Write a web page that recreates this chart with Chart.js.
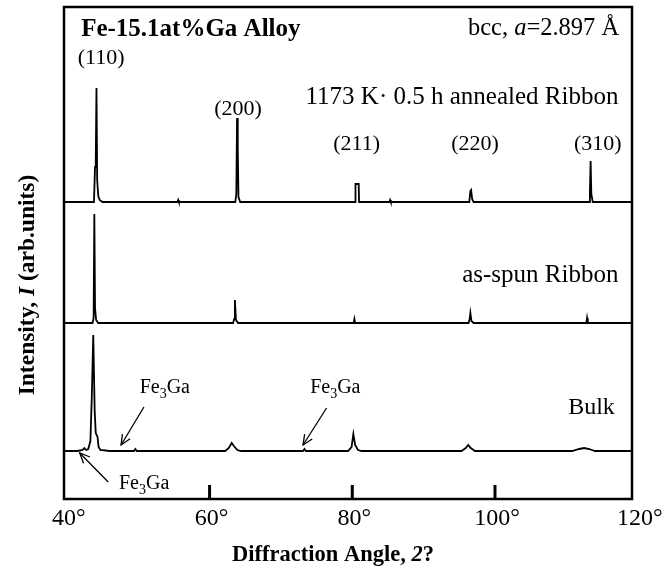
<!DOCTYPE html>
<html>
<head>
<meta charset="utf-8">
<script src="https://cdn.jsdelivr.net/npm/chart.js@4.4.1/dist/chart.umd.min.js"></script>
<style>
  body { margin: 0; background: #fff; }
  #wrap { width: 664px; height: 571px; }
</style>
</head>
<body>
<div id="wrap"><canvas id="xrd" width="664" height="571"></canvas></div>
<script>
// 2θ (deg) and intensity above each pattern's own baseline (arb. units)
const annealedAngle = [39.6, 42.0, 43.8, 43.95, 44.05, 44.15, 44.25, 44.4, 44.6, 45.0, 52.0, 55.5, 55.6, 55.7, 60.0, 63.6, 63.75, 63.85, 63.95, 64.05, 64.3, 70.0, 80.4, 80.45, 80.9, 80.95, 83.0, 85.2, 85.3, 85.4, 90.0, 96.4, 96.55, 96.65, 96.8, 97.0, 105.0, 113.2, 113.3, 113.4, 113.5, 113.7, 119.2];
const annealedCounts = [0, 0, 0, 35, 40, 114, 22, 6, 2, 0, 0, 0, 2, 0, 0, 0, 8, 84, 55, 5, 0, 0, 0, 18, 18, 0, 0, 0, 2, 0, 0, 0, 11, 12, 3, 0, 0, 0, 10, 41, 8, 0, 0];

const asSpunAngle = [39.6, 43.6, 43.75, 43.85, 43.95, 44.1, 44.4, 50.0, 63.3, 63.45, 63.55, 63.7, 64.0, 70.0, 80.2, 80.3, 80.4, 85.0, 96.3, 96.45, 96.55, 96.7, 97.0, 105.0, 112.8, 112.9, 113.0, 119.2];
const asSpunCounts = [0, 0, 5, 109, 15, 3, 0, 0, 0, 4, 23, 3, 0, 0, 0, 4, 0, 0, 0, 4, 10, 2, 0, 0, 0, 5, 0, 0];

const bulkAngle = [39.6, 41.5, 42.2, 42.45, 42.7, 43.0, 43.3, 43.5, 43.7, 43.9, 44.05, 44.3, 44.45, 44.7, 46.0, 49.4, 49.6, 49.8, 55.0, 62.2, 62.7, 63.1, 63.4, 63.9, 64.4, 70.0, 73.1, 73.3, 73.5, 79.4, 79.9, 80.15, 80.4, 80.8, 81.3, 88.0, 95.3, 95.9, 96.25, 96.6, 97.2, 105.0, 110.8, 111.8, 112.5, 113.2, 114.0, 119.2];
const bulkCounts = [0, 0, 1, 3, 1, 2, 10, 55, 116, 40, 18, 14, 4, 1, 0, 0, 2, 0, 0, 0, 3, 8, 5, 1, 0, 0, 0, 2, 0, 0, 4, 17, 6, 1, 0, 0, 0, 3, 6, 3, 0, 0, 0, 2, 3, 2, 0, 0];

// vertical shift of each pattern so they stack
const annealedOffset = 297;
const asSpunOffset = 176;
const bulkOffset = 48;

const xTicks = [40, 60, 80, 100, 120];
const innerTicks = [60, 80, 100];

const peakLabels = ['(110)', '(200)', '(211)', '(220)', '(310)'];
const peakLabelAngle = [44.8, 64.0, 80.6, 97.2, 114.4];
const peakLabelLevel = [435, 384, 349, 349, 349];

const SERIF = '"Liberation Serif", "Times New Roman", serif';

function toPoints(angles, counts, offset) {
  return angles.map((a, i) => ({ x: a, y: counts[i] + offset }));
}

function drawRuns(ctx, runs, x, y, align) {
  let total = 0;
  runs.forEach(r => { ctx.font = r.font; total += ctx.measureText(r.t).width; });
  let cx = align === 'right' ? x - total : align === 'center' ? x - total / 2 : x;
  ctx.textAlign = 'left';
  runs.forEach(r => {
    ctx.font = r.font;
    ctx.fillText(r.t, cx, y + (r.dy || 0));
    cx += ctx.measureText(r.t).width;
  });
}

function fe3ga(size) {
  return [
    { t: 'Fe', font: size + 'px ' + SERIF },
    { t: '3', font: Math.round(size * 0.68) + 'px ' + SERIF, dy: 5 },
    { t: 'Ga', font: size + 'px ' + SERIF }
  ];
}

function arrow(ctx, x1, y1, x2, y2) {
  ctx.beginPath();
  ctx.moveTo(x1, y1);
  ctx.lineTo(x2, y2);
  ctx.stroke();
  const ang = Math.atan2(y2 - y1, x2 - x1);
  const len = 11, spread = 0.42;
  ctx.beginPath();
  ctx.moveTo(x2 - len * Math.cos(ang - spread), y2 - len * Math.sin(ang - spread));
  ctx.lineTo(x2, y2);
  ctx.lineTo(x2 - len * Math.cos(ang + spread), y2 - len * Math.sin(ang + spread));
  ctx.stroke();
}

const overlay = {
  id: 'overlay',
  afterDatasetsDraw(chart) {
    const { ctx, chartArea: a, scales: { x, y } } = chart;
    const X = v => x.getPixelForValue(v);
    const Y = v => y.getPixelForValue(v);
    ctx.save();
    ctx.fillStyle = '#000';
    ctx.strokeStyle = '#000';

    // frame
    ctx.lineWidth = 2.5;
    ctx.strokeRect(a.left, a.top, a.right - a.left, a.bottom - a.top);

    // inner tick marks
    ctx.lineWidth = 3;
    innerTicks.forEach(v => {
      ctx.beginPath();
      ctx.moveTo(X(v), a.bottom);
      ctx.lineTo(X(v), a.bottom - 14);
      ctx.stroke();
    });

    // tick labels
    ctx.font = '24px ' + SERIF;
    ctx.textAlign = 'center';
    ctx.textBaseline = 'alphabetic';
    xTicks.forEach(v => ctx.fillText(v + '°', X(v) + 2, a.bottom + 26));

    // axis titles
    drawRuns(ctx, [
      { t: 'Diffraction Angle, ', font: 'bold 22.5px ' + SERIF },
      { t: '2', font: 'italic bold 22.5px ' + SERIF },
      { t: '?', font: 'bold 22.5px ' + SERIF }
    ], 333, a.bottom + 62, 'center');

    ctx.save();
    ctx.translate(34, 285);
    ctx.rotate(-Math.PI / 2);
    drawRuns(ctx, [
      { t: 'Intensity, ', font: 'bold 23.5px ' + SERIF },
      { t: 'I', font: 'italic bold 23.5px ' + SERIF },
      { t: ' (arb.units)', font: 'bold 23.5px ' + SERIF }
    ], 0, 0, 'center');
    ctx.restore();

    // header texts
    drawRuns(ctx, [{ t: 'Fe-15.1at%Ga Alloy', font: 'bold 25px ' + SERIF }], X(42.0), Y(463), 'left');
    drawRuns(ctx, [
      { t: 'bcc, ', font: '24.5px ' + SERIF },
      { t: 'a', font: 'italic 24.5px ' + SERIF },
      { t: '=2.897 Å', font: '24.5px ' + SERIF }
    ], X(117.4), Y(464), 'right');

    // peak indices
    ctx.font = '22px ' + SERIF;
    ctx.textAlign = 'center';
    peakLabels.forEach((t, i) => ctx.fillText(t, X(peakLabelAngle[i]), Y(peakLabelLevel[i])));

    // sample names
    drawRuns(ctx, [{ t: '1173 K· 0.5 h annealed Ribbon', font: '25px ' + SERIF }], X(117.3), Y(395), 'right');
    drawRuns(ctx, [{ t: 'as-spun Ribbon', font: '25px ' + SERIF }], X(117.3), Y(217), 'right');
    drawRuns(ctx, [{ t: 'Bulk', font: '24px ' + SERIF }], X(116.8), Y(85), 'right');

    // Fe3Ga markers
    drawRuns(ctx, fe3ga(20), X(50.2), Y(106), 'left');
    drawRuns(ctx, fe3ga(20), X(74.1), Y(106), 'left');
    drawRuns(ctx, fe3ga(20), X(47.3), Y(10), 'left');
    ctx.lineWidth = 1.3;
    arrow(ctx, X(50.8), Y(92), X(47.6), Y(54));
    arrow(ctx, X(76.4), Y(91), X(73.1), Y(54));
    arrow(ctx, X(45.8), Y(17), X(41.8), Y(46));

    ctx.restore();
  }
};

const lineStyle = { borderColor: '#000', borderWidth: 1.8, pointRadius: 0, tension: 0, fill: false };

new Chart(document.getElementById('xrd'), {
  type: 'line',
  data: {
    datasets: [
      { label: 'annealed', data: toPoints(annealedAngle, annealedCounts, annealedOffset), ...lineStyle },
      { label: 'as-spun', data: toPoints(asSpunAngle, asSpunCounts, asSpunOffset), ...lineStyle },
      { label: 'bulk', data: toPoints(bulkAngle, bulkCounts, bulkOffset), ...lineStyle }
    ]
  },
  options: {
    responsive: false,
    animation: false,
    layout: { padding: { left: 64, right: 32, top: 7, bottom: 72 } },
    scales: {
      x: { type: 'linear', min: 39.6, max: 119.2, display: false },
      y: { type: 'linear', min: 0, max: 492, display: false }
    },
    plugins: { legend: { display: false }, tooltip: { enabled: false } }
  },
  plugins: [overlay]
});
</script>
</body>
</html>
